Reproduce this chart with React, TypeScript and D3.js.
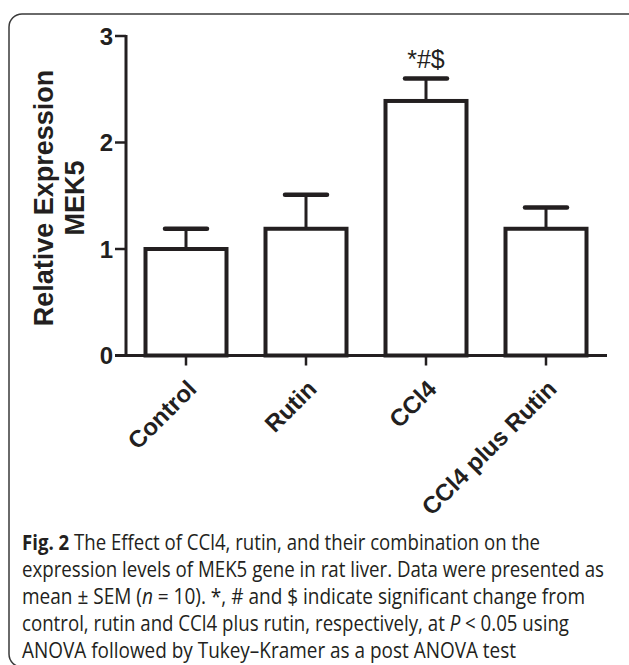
import React from "react";
import * as d3 from "d3";

const categories = ["Control", "Rutin", "CCl4", "CCl4 plus Rutin"];
const means = [1.0, 1.19, 2.39, 1.19];
const sems = [0.19, 0.32, 0.21, 0.2];
const annotations = ["", "", "*#$", ""];
const yTicks = [0, 1, 2, 3];
const yTitleLines = ["Relative Expression", "MEK5"];

const W = 629;
const H = 665;
const INK = "#231f20";

export default function App() {
  const y = d3.scaleLinear().domain([0, 3]).range([355.5, 36]);
  const x = d3.scaleBand<string>().domain(categories).range([126, 606]).paddingInner(0).paddingOuter(0);
  const bw = x.bandwidth() * 0.675;
  const capHalf = 21;
  const font = "'Liberation Sans', Arial, Helvetica, sans-serif";
  const capFont = "'Open Sans', 'Noto Sans', sans-serif";
  const sx = 0.88;

  const captionLines: { parts: { t: string; b?: boolean; i?: boolean }[]; len: number }[] = [
    { parts: [{ t: "Fig. 2", b: true }, { t: " The Effect of CCl4, rutin, and their combination on the" }], len: 518 },
    { parts: [{ t: "expression levels of MEK5 gene in rat liver. Data were presented as" }], len: 582 },
    { parts: [{ t: "mean ± SEM (" }, { t: "n", i: true }, { t: " = 10). *, # and $ indicate significant change from" }], len: 563 },
    { parts: [{ t: "control, rutin and CCl4 plus rutin, respectively, at " }, { t: "P", i: true }, { t: " < 0.05 using" }], len: 547 },
    { parts: [{ t: "ANOVA followed by Tukey–Kramer as a post ANOVA test" }], len: 494 },
  ];
  const captionBase = [550.5, 577.5, 604.5, 631.5, 658.5];

  return (
    <svg width={W} height={H} style={{ position: "absolute", left: 0, top: 0, background: "#fff" }}>
      <rect x={9} y={14} width={640} height={653} rx={13} ry={13} fill="none" stroke="#3a3a3a" strokeWidth={1.5} />

      {/* bars */}
      {categories.map((c, i) => {
        const cx = x(c)! + x.bandwidth() / 2;
        return (
          <g key={c}>
            <line x1={cx} x2={cx} y1={y(means[i])} y2={y(means[i] + sems[i])} stroke={INK} strokeWidth={3} />
            <line x1={cx - capHalf} x2={cx + capHalf} y1={y(means[i] + sems[i])} y2={y(means[i] + sems[i])} stroke={INK} strokeWidth={4.5} strokeLinecap="round" />
            <rect x={cx - bw / 2} y={y(means[i])} width={bw} height={y(0) - y(means[i])} fill="#fff" stroke={INK} strokeWidth={4} />
            {annotations[i] && (
              <text x={cx} y={y(means[i] + sems[i]) - 11} textAnchor="middle" fontFamily={font} fontSize={25} fill={INK}>
                {annotations[i]}
              </text>
            )}
          </g>
        );
      })}

      {/* y axis */}
      <line x1={126} x2={126} y1={y(3) - 1} y2={y(0) + 1.5} stroke={INK} strokeWidth={3} />
      {yTicks.map((t) => (
        <g key={t}>
          <line x1={115} x2={126} y1={y(t)} y2={y(t)} stroke={INK} strokeWidth={2.5} />
          <text x={113} y={y(t)} dy="0.36em" textAnchor="end" fontFamily={font} fontWeight="bold" fontSize={24} fill={INK}>
            {t}
          </text>
        </g>
      ))}
      {/* x axis */}
      <line x1={115} x2={607} y1={y(0)} y2={y(0)} stroke={INK} strokeWidth={3} />
      {categories.map((c) => {
        const cx = x(c)! + x.bandwidth() / 2;
        return (
          <g key={"t" + c}>
            <line x1={cx} x2={cx} y1={y(0)} y2={y(0) + 10} stroke={INK} strokeWidth={2.5} />
            <text
              transform={`translate(${cx + 12},${y(0) + 35}) rotate(-45)`}
              textAnchor="end"
              fontFamily={font}
              fontWeight="bold"
              fontSize={24}
              fill={INK}
            >
              {c}
            </text>
          </g>
        );
      })}

      {/* y title */}
      {yTitleLines.map((l, i) => (
        <text
          key={l}
          transform={`translate(${53 + i * 31},198) rotate(-90)`}
          textAnchor="middle"
          fontFamily={font}
          fontWeight="bold"
          fontSize={27}
          fill={INK}
        >
          {l}
        </text>
      ))}

      {/* caption */}
      <g transform={`scale(${sx},1)`}>
        {captionLines.map((ln, i) => (
          <text
            key={i}
            x={22 / sx}
            y={captionBase[i]}
            fontFamily={capFont}
            fontSize={21}
            fill={INK}
            textLength={ln.len / sx}
            lengthAdjust="spacingAndGlyphs"
          >
            {ln.parts.map((p, j) => (
              <tspan key={j} fontWeight={p.b ? "bold" : "normal"} fontStyle={p.i ? "italic" : "normal"}>
                {p.t}
              </tspan>
            ))}
          </text>
        ))}
      </g>
    </svg>
  );
}
